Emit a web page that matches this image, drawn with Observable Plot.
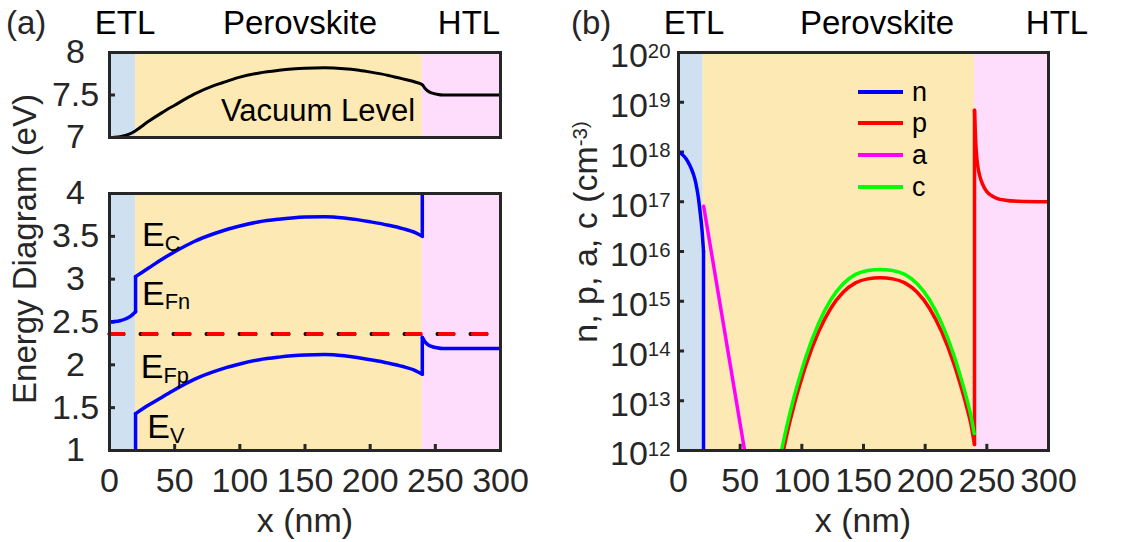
<!DOCTYPE html>
<html><head><meta charset="utf-8">
<script src="https://cdn.jsdelivr.net/npm/d3@7"></script>
<script src="https://cdn.jsdelivr.net/npm/@observablehq/plot@0.6"></script>
<style>
body{margin:0;background:#fff;}
#fig{position:relative;width:1137px;height:542px;overflow:hidden;font-family:"Liberation Sans",Arial,sans-serif;}
#fig svg{position:absolute;overflow:visible;}
</style></head><body><div id="fig"></div>
<script>
// ---------- layers ----------
const layerNames = ["ETL", "Perovskite", "HTL"];
const layerStart = [0, 20, 240];
const layerEnd = [20, 240, 300];
const layerColors = ["#cfe0f1", "#fde9b4", "#fddcfc"];

// ---------- (a) vacuum level ----------
const vacX = [0,4,8,12,16,20,30,40,50,65,80,90,100,115,130,140,150,165,180,190,200,214,225,235,240,242,244,247,251,256,270,300];
const vacE = [7.0,7.003,7.01,7.025,7.045,7.08,7.19,7.29,7.38,7.51,7.61,7.66,7.71,7.76,7.79,7.805,7.815,7.82,7.81,7.795,7.77,7.73,7.69,7.65,7.62,7.58,7.55,7.525,7.51,7.50,7.50,7.50];

// ---------- (a) band edges ----------
const ecX    = [0,4,8,12,16,20, 20,20, 20,30,40,50,65,80,90,100,115,130,140,150,165,180,190,200,214,225,235,240, 240,240];
const ecE    = [2.50,2.505,2.515,2.535,2.565,2.62, 2.62,3.03, 3.03,3.13,3.23,3.32,3.44,3.53,3.58,3.62,3.67,3.70,3.715,3.725,3.73,3.715,3.695,3.67,3.63,3.59,3.54,3.50, 3.50,4.0];
const ecPart = [0,0,0,0,0,0, 1,1, 2,2,2,2,2,2,2,2,2,2,2,2,2,2,2,2,2,2,2,2, 3,3];

const evX    = [20,20, 20,30,40,50,65,80,90,100,115,130,140,150,165,180,190,200,214,225,235,240, 240,240, 240,242,244,247,251,256,270,300];
const evE    = [1.0,1.43, 1.43,1.53,1.62,1.71,1.83,1.92,1.97,2.01,2.06,2.09,2.105,2.115,2.12,2.105,2.085,2.06,2.02,1.98,1.93,1.89, 1.89,2.32, 2.32,2.27,2.24,2.215,2.20,2.19,2.19,2.19];
const evPart = [0,0, 1,1,1,1,1,1,1,1,1,1,1,1,1,1,1,1,1,1,1,1, 2,2, 3,3,3,3,3,3,3,3];

const efX = [0, 300];
const efE = [2.36, 2.36];

const bandLabels = ["E_C", "E_Fn", "E_Fp", "E_V"];
const bandLabelX = [25, 25, 24, 29];
const bandLabelE = [3.51, 2.83, 1.97, 1.27];

// ---------- (b) carrier / ion densities (log10 cm^-3) ----------
const seriesNames = ["n", "p", "a", "c"];
const seriesColors = ["#0000ff", "#ff0000", "#ff00ff", "#00ff00"];

const nX    = [0,3,6,9,12,14,16,17.5,19,20.3, 20.3,20.3];
const nLog  = [18.0,17.95,17.87,17.74,17.56,17.38,17.1,16.8,16.45,16.0, 16.0,12.0];
const nPart = [0,0,0,0,0,0,0,0,0,0, 1,1];

const pX    = [85.1,88.5,93.5,98.5,103.5,113.5,123.5,133.5,143.5,153.5,163.5,173.5,183.5,193.5,203.5,213.5,223.5,228.5,233.5,237,240, 240,240, 240,240.5,241,242,243.5,245.5,248,250.5,254,258,265,275,300];
const pLog  = [12.0,12.39,12.89,13.33,13.73,14.38,14.86,15.18,15.37,15.45,15.47,15.45,15.37,15.18,14.86,14.38,13.73,13.33,12.89,12.54,12.12, 12.12,18.84, 18.84,18.5,18.2,17.85,17.6,17.42,17.28,17.19,17.12,17.07,17.03,17.01,17.0];
const pPart = [0,0,0,0,0,0,0,0,0,0,0,0,0,0,0,0,0,0,0,0,0, 1,1, 2,2,2,2,2,2,2,2,2,2,2,2,2];

const aX   = [20.4, 53.6];
const aLog = [16.91, 12.0];

const cX   = [83.5,88.5,93.5,98.5,103.5,113.5,123.5,133.5,143.5,153.5,163.5,173.5,183.5,193.5,203.5,213.5,223.5,228.5,233.5,237,239.8];
const cLog = [12.0,12.56,13.06,13.5,13.9,14.55,15.03,15.35,15.54,15.62,15.64,15.62,15.54,15.35,15.03,14.55,13.9,13.5,13.06,12.71,12.34];

const xTicks = [0, 50, 100, 150, 200, 250, 300];
const vacTicks = [7, 7.5, 8];
const bandTicks = [1, 1.5, 2, 2.5, 3, 3.5, 4];
const logTicks = [12, 13, 14, 15, 16, 17, 18, 19, 20];

// ---------- helpers ----------
const FONT = '"Liberation Sans", Arial, sans-serif';
const INK = "#262626";
const layers = layerNames.map((name, i) => ({name, x1: layerStart[i], x2: layerEnd[i], fill: layerColors[i]}));
const rows = (xs, ys, parts) => xs.map((x, i) => ({x, y: ys[i], part: parts ? parts[i] : 0}));
const baseStyle = {fontFamily: FONT, fontSize: "34px", color: INK, background: "transparent", overflow: "visible"};

function richText(svg) {
  svg.querySelectorAll("text").forEach(t => {
    const s = t.textContent;
    const m = s.match(/^([^_^]*)([_^])(.+)$/);
    if (!m) return;
    t.textContent = m[1];
    const ts = document.createElementNS("http://www.w3.org/2000/svg", "tspan");
    ts.setAttribute("font-size", m[2] === "_" ? "0.64em" : "0.6em");
    ts.setAttribute("dy", m[2] === "_" ? "0.2em" : "-0.48em");
    ts.textContent = m[3];
    t.appendChild(ts);
  });
}
const fig = document.getElementById("fig");
function place(svg, left, top) {
  svg.style.left = left + "px"; svg.style.top = top + "px";
  richText(svg);
  fig.appendChild(svg);
}
const bg = Plot.rect(layers, {x1: "x1", x2: "x2", fill: "fill"});
const frame = Plot.frame({stroke: INK, strokeWidth: 3});

// ---------- panel (a) top: vacuum level ----------
const vacPlot = Plot.plot({
  width: 540, height: 110,
  marginLeft: 109, marginRight: 40, marginTop: 12, marginBottom: 13,
  style: baseStyle,
  x: {domain: [0, 300], axis: null},
  y: {domain: [7, 8]},
  marks: [
    bg,
    Plot.ruleY([7.5], {x1: 0, x2: 4.6, stroke: INK, strokeWidth: 3}),
    Plot.axisY({ticks: vacTicks, tickFormat: d => String(d), tickSize: 0, tickPadding: 34, textAnchor: "middle", label: null, fill: INK}),
    Plot.line(rows(vacX, vacE), {x: "x", y: "y", stroke: "black", strokeWidth: 3, curve: "monotone-x"}),
    Plot.text(["Vacuum Level"], {x: 160, y: 7.31, text: d => d, fontSize: 31, fill: "black", lineAnchor: "middle"}),
    frame
  ]
});
place(vacPlot, 0, 40);

// ---------- panel (a) bottom: band diagram ----------
const bandPlot = Plot.plot({
  width: 540, height: 362,
  marginLeft: 109, marginRight: 40, marginTop: 13, marginBottom: 92,
  style: baseStyle,
  x: {domain: [0, 300]},
  y: {domain: [1, 4]},
  marks: [
    bg,
    Plot.ruleY(bandTicks.slice(1, -1), {x1: 0, x2: 4.6, stroke: INK, strokeWidth: 3}),
    Plot.ruleX(xTicks.slice(1, -1), {y1: 1, y2: 1.07, stroke: INK, strokeWidth: 3}),
    Plot.axisY({ticks: bandTicks, tickFormat: d => String(d), tickSize: 0, tickPadding: 34, textAnchor: "middle", label: null, fill: INK}),
    Plot.axisX({ticks: xTicks, tickFormat: d => String(d), tickSize: 0, tickPadding: 17, label: null, fill: INK}),
    Plot.line(rows(ecX, ecE, ecPart), {x: "x", y: "y", z: "part", stroke: "#0000ff", strokeWidth: 3.5, curve: "monotone-x", strokeLinecap: "round", strokeLinejoin: "round", clip: true}),
    Plot.line(rows(evX, evE, evPart), {x: "x", y: "y", z: "part", stroke: "#0000ff", strokeWidth: 3.5, curve: "monotone-x", strokeLinecap: "round", strokeLinejoin: "round", clip: true}),
    Plot.line(rows(efX, efE), {x: "x", y: "y", stroke: "black", strokeWidth: 4, strokeDasharray: "16 17", strokeDashoffset: 2}),
    Plot.line(rows(efX, efE), {x: "x", y: "y", stroke: "#ff0000", strokeWidth: 4, strokeDasharray: "14 19"}),
    Plot.text(bandLabels.map((t, i) => ({t, x: bandLabelX[i], y: bandLabelE[i]})), {x: "x", y: "y", text: "t", fontSize: 34, fill: "black", textAnchor: "start", lineAnchor: "middle"}),
    frame
  ]
});
place(bandPlot, 0, 180);

// ---------- panel (b): densities ----------
const logRows = (xs, ls, parts) => xs.map((x, i) => ({x, y: 10 ** ls[i], part: parts ? parts[i] : 0}));
const lineOpts = (color) => ({x: "x", y: "y", z: "part", stroke: color, strokeWidth: 3.5, curve: "monotone-x", strokeLinecap: "round", strokeLinejoin: "round", clip: true});
const densPlot = Plot.plot({
  width: 577, height: 502,
  marginLeft: 118, marginRight: 89, marginTop: 12, marginBottom: 92,
  style: baseStyle,
  x: {domain: [0, 300]},
  y: {type: "log", domain: [1e12, 1e20]},
  marks: [
    bg,
    Plot.ruleY(logTicks.slice(1, -1).map(e => 10 ** e), {x1: 0, x2: 4.9, stroke: INK, strokeWidth: 3}),
    Plot.ruleX(xTicks.slice(1, -1), {y1: 1e12, y2: 1.33e12, stroke: INK, strokeWidth: 3}),
    Plot.axisY({ticks: logTicks.map(e => 10 ** e), tickFormat: d => "10^" + Math.round(Math.log10(d)), tickSize: 0, tickPadding: 8, dy: 4, label: null, fill: INK}),
    Plot.axisX({ticks: xTicks, tickFormat: d => String(d), tickSize: 0, tickPadding: 17, label: null, fill: INK}),
    Plot.line(logRows(nX, nLog, nPart), lineOpts(seriesColors[0])),
    Plot.line(logRows(pX, pLog, pPart), lineOpts(seriesColors[1])),
    Plot.line(logRows(aX, aLog), lineOpts(seriesColors[2])),
    Plot.line(logRows(cX, cLog), lineOpts(seriesColors[3])),
    frame
  ]
});
place(densPlot, 560, 40);

// ---------- overlay: titles, axis labels, legend ----------
const NS = "http://www.w3.org/2000/svg";
const ov = document.createElementNS(NS, "svg");
ov.setAttribute("width", 1137); ov.setAttribute("height", 542);
ov.style.left = "0px"; ov.style.top = "0px";
ov.style.fontFamily = FONT;
function txt(s, x, y, opts = {}) {
  const t = document.createElementNS(NS, "text");
  t.setAttribute("x", x); t.setAttribute("y", y);
  t.setAttribute("font-size", opts.size || 33);
  t.setAttribute("fill", opts.fill || "black");
  t.setAttribute("text-anchor", opts.anchor || "middle");
  if (opts.transform) t.setAttribute("transform", opts.transform);
  t.textContent = s;
  ov.appendChild(t);
  return t;
}
txt("(a)", 6, 34, {anchor: "start", fill: INK});
txt("(b)", 571, 34, {anchor: "start", fill: INK});
const headerLeft = [125, 300, 469];
const headerRight = [694, 877, 1057];
layerNames.forEach((n, i) => { txt(n, headerLeft[i], 34); txt(n, headerRight[i], 34); });
txt("x (nm)", 305, 532, {fill: INK, size: 34});
txt("x (nm)", 863, 532, {fill: INK, size: 34});
txt("Energy Diagram (eV)", 0, 0, {fill: INK, size: 33, transform: "translate(36,249) rotate(-90)"});
txt("n, p, a, c (cm^-3)", 0, 0, {fill: INK, size: 34, transform: "translate(597,232) rotate(-90)"});
// legend
const legendY = [92, 123, 155, 187];
seriesNames.forEach((n, i) => {
  const l = document.createElementNS(NS, "line");
  l.setAttribute("x1", 858); l.setAttribute("x2", 903);
  l.setAttribute("y1", legendY[i]); l.setAttribute("y2", legendY[i]);
  l.setAttribute("stroke", seriesColors[i]); l.setAttribute("stroke-width", 4);
  ov.appendChild(l);
  txt(n, 912, legendY[i] + 9, {anchor: "start", size: 27});
});
richText(ov);
fig.appendChild(ov);
</script></body></html>
